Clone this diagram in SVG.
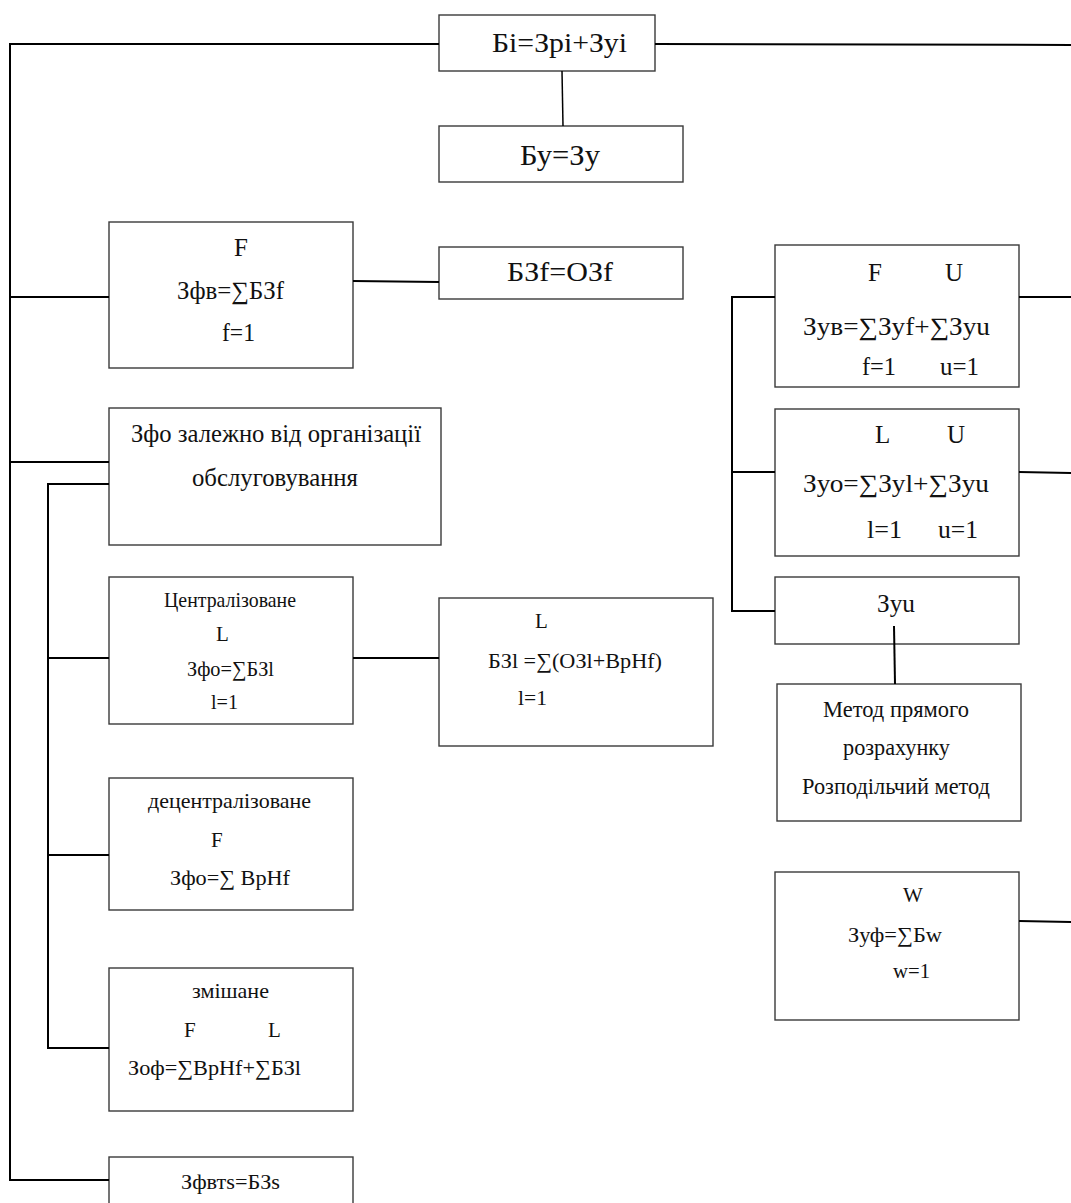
<svg xmlns="http://www.w3.org/2000/svg" width="1071" height="1203" viewBox="0 0 1071 1203" font-family="'Liberation Serif', 'Times New Roman', 'DejaVu Serif', serif">
  <style>
    .box { fill: #ffffff; stroke: #3a3a3a; stroke-width: 1.4; }
    .wire { fill: none; stroke: #000000; stroke-width: 2; }
    .thin { stroke-width: 1.5; }
    text { font-family: "Liberation Serif", "Times New Roman", "DejaVu Serif", serif; fill: #111111; }
    .s29 { font-size: 29px; }
    .s27 { font-size: 27px; }
    .s25 { font-size: 25px; }
    .s23 { font-size: 23px; }
    .s21 { font-size: 21px; }
  </style>
  <rect width="1071" height="1203" fill="#ffffff"/>

  <g id="node-bi">
    <rect class="box" x="439" y="15" width="216" height="56"/>
    <text class="s27" x="492" y="52" textLength="135" lengthAdjust="spacingAndGlyphs">Бі=Зрі+Зуі</text>
  </g>

  <g id="node-bu">
    <rect class="box" x="439" y="126" width="244" height="56"/>
    <text class="s29" x="520" y="165" textLength="80" lengthAdjust="spacingAndGlyphs">Бу=Зу</text>
  </g>

  <g id="node-zfv">
    <rect class="box" x="109" y="222" width="244" height="146"/>
    <text class="s25" x="234" y="256">F</text>
    <text class="s25" x="177" y="299" textLength="107" lengthAdjust="spacingAndGlyphs">Зфв=∑БЗf</text>
    <text class="s25" x="222" y="341" textLength="33" lengthAdjust="spacingAndGlyphs">f=1</text>
  </g>

  <g id="node-bzf">
    <rect class="box" x="439" y="247" width="244" height="52"/>
    <text class="s27" x="507" y="281" textLength="106" lengthAdjust="spacingAndGlyphs">БЗf=ОЗf</text>
  </g>

  <g id="node-zfo">
    <rect class="box" x="109" y="408" width="332" height="137"/>
    <text class="s25" x="131" y="442" textLength="290" lengthAdjust="spacingAndGlyphs">Зфо залежно від організації</text>
    <text class="s25" x="192" y="486" textLength="166" lengthAdjust="spacingAndGlyphs">обслуговування</text>
  </g>

  <g id="node-central">
    <rect class="box" x="109" y="577" width="244" height="147"/>
    <text class="s21" x="164" y="607" textLength="132" lengthAdjust="spacingAndGlyphs">Централізоване</text>
    <text class="s21" x="216" y="641">L</text>
    <text class="s21" x="187" y="676" textLength="87" lengthAdjust="spacingAndGlyphs">Зфо=∑БЗl</text>
    <text class="s21" x="211" y="709" textLength="27" lengthAdjust="spacingAndGlyphs">l=1</text>
  </g>

  <g id="node-bzl">
    <rect class="box" x="439" y="598" width="274" height="148"/>
    <text class="s21" x="535" y="628">L</text>
    <text class="s21" x="488" y="668" textLength="174" lengthAdjust="spacingAndGlyphs">БЗl =∑(ОЗl+ВрНf)</text>
    <text class="s21" x="518" y="705" textLength="29" lengthAdjust="spacingAndGlyphs">l=1</text>
  </g>

  <g id="node-decentral">
    <rect class="box" x="109" y="778" width="244" height="132"/>
    <text class="s21" x="148" y="808" textLength="163" lengthAdjust="spacingAndGlyphs">децентралізоване</text>
    <text class="s21" x="211" y="847">F</text>
    <text class="s21" x="170" y="885" textLength="120" lengthAdjust="spacingAndGlyphs">Зфо=∑ ВрНf</text>
  </g>

  <g id="node-mixed">
    <rect class="box" x="109" y="968" width="244" height="143"/>
    <text class="s21" x="192" y="998" textLength="77" lengthAdjust="spacingAndGlyphs">змішане</text>
    <text class="s21" x="184" y="1037">F</text>
    <text class="s21" x="268" y="1037">L</text>
    <text class="s21" x="128" y="1075" textLength="173" lengthAdjust="spacingAndGlyphs">Зоф=∑ВрНf+∑БЗl</text>
  </g>

  <g id="node-zfvts">
    <rect class="box" x="109" y="1157" width="244" height="60"/>
    <text class="s21" x="181" y="1189" textLength="99" lengthAdjust="spacingAndGlyphs">Зфвтs=БЗs</text>
  </g>

  <g id="node-zuv">
    <rect class="box" x="775" y="245" width="244" height="142"/>
    <text class="s25" x="868" y="281">F</text>
    <text class="s25" x="945" y="281">U</text>
    <text class="s25" x="803" y="335" textLength="187" lengthAdjust="spacingAndGlyphs">Зув=∑Зуf+∑Зуu</text>
    <text class="s25" x="862" y="375" textLength="34" lengthAdjust="spacingAndGlyphs">f=1</text>
    <text class="s25" x="940" y="375" textLength="39" lengthAdjust="spacingAndGlyphs">u=1</text>
  </g>

  <g id="node-zuo">
    <rect class="box" x="775" y="409" width="244" height="147"/>
    <text class="s25" x="875" y="443">L</text>
    <text class="s25" x="947" y="443">U</text>
    <text class="s25" x="803" y="492" textLength="186" lengthAdjust="spacingAndGlyphs">Зуо=∑Зуl+∑Зуu</text>
    <text class="s25" x="867" y="538" textLength="35" lengthAdjust="spacingAndGlyphs">l=1</text>
    <text class="s25" x="938" y="538" textLength="40" lengthAdjust="spacingAndGlyphs">u=1</text>
  </g>

  <g id="node-zuu">
    <rect class="box" x="775" y="577" width="244" height="67"/>
    <text class="s25" x="877" y="612" textLength="38" lengthAdjust="spacingAndGlyphs">Зуu</text>
  </g>

  <g id="node-method">
    <rect class="box" x="777" y="684" width="244" height="137"/>
    <text class="s23" x="823" y="717" textLength="146" lengthAdjust="spacingAndGlyphs">Метод прямого</text>
    <text class="s23" x="843" y="755" textLength="107" lengthAdjust="spacingAndGlyphs">розрахунку</text>
    <text class="s23" x="802" y="794" textLength="188" lengthAdjust="spacingAndGlyphs">Розподільчий метод</text>
  </g>

  <g id="node-zuf">
    <rect class="box" x="775" y="872" width="244" height="148"/>
    <text class="s21" x="903" y="902">W</text>
    <text class="s21" x="848" y="942" textLength="94" lengthAdjust="spacingAndGlyphs">Зуф=∑Бw</text>
    <text class="s21" x="893" y="978" textLength="37" lengthAdjust="spacingAndGlyphs">w=1</text>
  </g>

  <!-- connectors, drawn over the boxes -->
  <g id="connectors">
    <polyline class="wire" points="439,44 10,44 10,1180 109,1180"/>
    <line class="wire" x1="655" y1="44" x2="1071" y2="45"/>
    <line class="wire thin" x1="562" y1="71" x2="563" y2="126"/>
    <line class="wire" x1="10" y1="297" x2="109" y2="297"/>
    <line class="wire" x1="353" y1="281" x2="439" y2="282"/>
    <line class="wire" x1="10" y1="462" x2="109" y2="462"/>
    <polyline class="wire" points="109,484 48,484 48,1048 109,1048"/>
    <line class="wire" x1="48" y1="658" x2="109" y2="658"/>
    <line class="wire" x1="353" y1="658" x2="439" y2="658"/>
    <line class="wire" x1="48" y1="855" x2="109" y2="855"/>
    <polyline class="wire" points="775,297 732,297 732,611 775,611"/>
    <line class="wire" x1="732" y1="472" x2="775" y2="472"/>
    <line class="wire" x1="1019" y1="297" x2="1071" y2="297"/>
    <line class="wire" x1="1019" y1="472" x2="1071" y2="473"/>
    <line class="wire" x1="894" y1="626" x2="895" y2="684"/>
    <line class="wire" x1="1019" y1="921" x2="1071" y2="922"/>
  </g>
</svg>
